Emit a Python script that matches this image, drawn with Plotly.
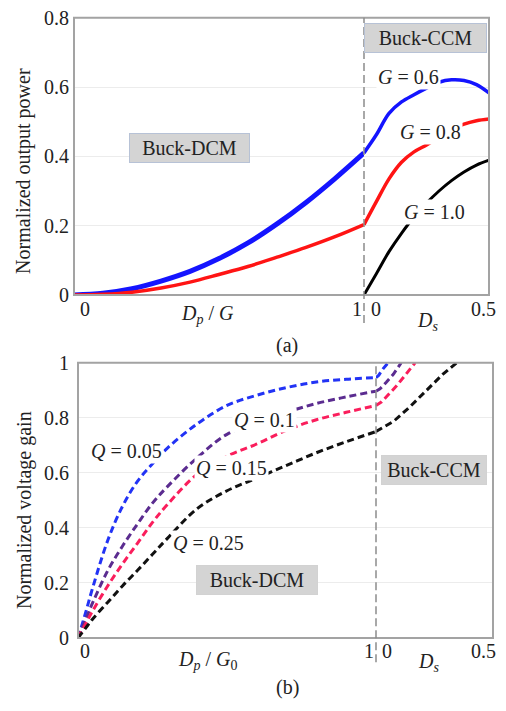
import plotly.graph_objects as go

# ---------------- data: panel (a) normalized output power ----------------
dcm_x_a = [0, 0.1, 0.2, 0.3, 0.4, 0.5, 0.6, 0.7, 0.8, 0.9, 1.0]
p_dcm_g06 = [0, 0.005, 0.018, 0.04, 0.068, 0.105, 0.15, 0.205, 0.267, 0.336, 0.41]
p_dcm_g08 = [0, 0.002, 0.008, 0.02, 0.037, 0.059, 0.082, 0.109, 0.137, 0.168, 0.203]

ccm_ds_a = [0, 0.05, 0.1, 0.15, 0.2, 0.25, 0.3, 0.35, 0.4, 0.45, 0.5]
p_ccm_g06 = [0.41, 0.463, 0.524, 0.557, 0.578, 0.597, 0.614, 0.621, 0.619, 0.607, 0.583]
p_ccm_g08 = [0.203, 0.27, 0.335, 0.383, 0.413, 0.433, 0.456, 0.476, 0.493, 0.503, 0.508]
p_ccm_g10 = [0, 0.062, 0.125, 0.178, 0.225, 0.265, 0.3, 0.33, 0.355, 0.375, 0.389]

# ---------------- data: panel (b) normalized voltage gain ----------------
dcm_x_b = [0, 0.025, 0.05, 0.1, 0.15, 0.2, 0.25, 0.3, 0.4, 0.5, 0.6, 0.7, 0.8, 0.9, 1.0]
g_dcm_q005 = [0, 0.09, 0.185, 0.355, 0.48, 0.57, 0.633, 0.69, 0.778, 0.845, 0.882, 0.91, 0.93, 0.94, 0.946]
g_dcm_q010 = [0, 0.065, 0.13, 0.245, 0.335, 0.415, 0.49, 0.55, 0.655, 0.74, 0.782, 0.82, 0.852, 0.876, 0.897]
g_dcm_q015 = [0, 0.05, 0.1, 0.19, 0.27, 0.345, 0.42, 0.485, 0.595, 0.66, 0.705, 0.755, 0.793, 0.82, 0.845]
g_dcm_q025 = [0, 0.035, 0.07, 0.13, 0.19, 0.246, 0.304, 0.362, 0.47, 0.535, 0.581, 0.627, 0.673, 0.713, 0.75]

ccm_ds_q005 = [0, 0.012, 0.03, 0.052]
g_ccm_q005 = [0.946, 0.955, 0.978, 1.0]
ccm_ds_q010 = [0, 0.017, 0.045, 0.074, 0.108]
g_ccm_q010 = [0.897, 0.905, 0.93, 0.958, 1.0]
ccm_ds_q015 = [0, 0.024, 0.088, 0.167]
g_ccm_q015 = [0.845, 0.858, 0.916, 1.0]
ccm_ds_q025 = [0, 0.075, 0.145, 0.215, 0.285, 0.345]
g_ccm_q025 = [0.75, 0.787, 0.84, 0.899, 0.958, 1.0]

# tick labels
y_ticks_a = [0, 0.2, 0.4, 0.6, 0.8]
y_ticktext_a = ["0", "0.2", "0.4", "0.6", "0.8"]
y_ticks_b = [0, 0.2, 0.4, 0.6, 0.8, 1.0]
y_ticktext_b = ["0", "0.2", "0.4", "0.6", "0.8", "1"]
x_ticks_dcm = [0, 1]
x_ticks_ccm = [0, 0.5]
x_ticktext_dcm = ["0", "1"]
x_ticktext_ccm = ["0", "0.5"]

# ---------------- layout geometry (pixels) ----------------
W, H = 506, 711
FONT = "Liberation Serif"
TXT = "#222222"


def px(v):
    return v / W


def py(v):
    return 1 - v / H


A_L, A_M, A_R, A_T, A_B = 74, 364, 489, 7, 293
B_L, B_M, B_R, B_T, B_B = 78, 376, 493, 363, 647

fig = go.Figure()

blue_a, red_a = "#1414ff", "#ff1414"
blue_b, purple_b, pink_b, black_b = "#2233f5", "#5b2c90", "#fa1e5c", "#111111"

# panel (a) traces
fig.add_trace(go.Scatter(x=dcm_x_a, y=p_dcm_g06, xaxis="x", yaxis="y", mode="lines",
                         line=dict(color=blue_a, width=5, shape="spline")))
fig.add_trace(go.Scatter(x=dcm_x_a, y=p_dcm_g08, xaxis="x", yaxis="y", mode="lines",
                         line=dict(color=red_a, width=3.5, shape="spline")))
fig.add_trace(go.Scatter(x=ccm_ds_a, y=p_ccm_g06, xaxis="x2", yaxis="y", mode="lines",
                         line=dict(color=blue_a, width=3.5, shape="spline")))
fig.add_trace(go.Scatter(x=ccm_ds_a, y=p_ccm_g08, xaxis="x2", yaxis="y", mode="lines",
                         line=dict(color=red_a, width=3.5, shape="spline")))
fig.add_trace(go.Scatter(x=ccm_ds_a, y=p_ccm_g10, xaxis="x2", yaxis="y", mode="lines",
                         line=dict(color="black", width=3, shape="spline")))

# panel (b) traces
DASH = "7px,4px"
for xs, ys, c in [(dcm_x_b, g_dcm_q005, blue_b), (dcm_x_b, g_dcm_q010, purple_b),
                  (dcm_x_b, g_dcm_q015, pink_b), (dcm_x_b, g_dcm_q025, black_b)]:
    fig.add_trace(go.Scatter(x=xs, y=ys, xaxis="x3", yaxis="y2", mode="lines",
                             line=dict(color=c, width=3, dash=DASH, shape="spline")))
for xs, ys, c in [(ccm_ds_q005, g_ccm_q005, blue_b), (ccm_ds_q010, g_ccm_q010, purple_b),
                  (ccm_ds_q015, g_ccm_q015, pink_b), (ccm_ds_q025, g_ccm_q025, black_b)]:
    fig.add_trace(go.Scatter(x=xs, y=ys, xaxis="x4", yaxis="y2", mode="lines",
                             line=dict(color=c, width=3, dash=DASH)))

hidden_x = dict(showticklabels=False, showgrid=False, zeroline=False, showline=False, ticks="")
yax = dict(showgrid=True, gridcolor="#ececec", gridwidth=1, zeroline=False, showline=False,
           ticks="", tickfont=dict(family=FONT, size=20, color=TXT))

fig.update_layout(
    width=W, height=H, margin=dict(l=0, r=0, t=0, b=0),
    paper_bgcolor="white", plot_bgcolor="white", showlegend=False,
    font=dict(family=FONT, size=20, color=TXT),
    xaxis=dict(domain=[px(A_L), px(A_M)], range=[0, 1], anchor="y", **hidden_x),
    xaxis2=dict(domain=[px(A_M), px(A_R)], range=[0, 0.5], anchor="y", **hidden_x),
    xaxis3=dict(domain=[px(B_L), px(B_M)], range=[0, 1], anchor="y2", **hidden_x),
    xaxis4=dict(domain=[px(B_M), px(B_R)], range=[0, 0.5], anchor="y2", **hidden_x),
    yaxis=dict(domain=[py(A_B), py(A_T)], range=[0, 0.8], anchor="x",
               tickvals=y_ticks_a, ticktext=y_ticktext_a, ticklabelstandoff=4, **yax),
    yaxis2=dict(domain=[py(B_B), py(B_T)], range=[0, 1], anchor="x3",
                tickvals=y_ticks_b, ticktext=y_ticktext_b, ticklabelstandoff=8, **yax),
)

# frames and boundary dashed lines
for l, r, t, b in [(A_L, A_R, A_T, A_B), (B_L, B_R, B_T, B_B)]:
    fig.add_shape(type="rect", xref="paper", yref="paper", x0=px(l), x1=px(r), y0=py(b), y1=py(t),
                  line=dict(color="#a3a3a3", width=2), fillcolor="rgba(0,0,0,0)", layer="above")
fig.add_shape(type="line", xref="paper", yref="paper", x0=px(A_M), x1=px(A_M), y0=py(322), y1=py(A_T),
              line=dict(color="#8c8c8c", width=1.5, dash="8px,4px"))
fig.add_shape(type="line", xref="paper", yref="paper", x0=px(B_M), x1=px(B_M), y0=py(672), y1=py(B_T),
              line=dict(color="#8c8c8c", width=1.5, dash="8px,4px"))

CENTER = dict(xanchor="center", yanchor="middle", showarrow=False)
ann = []
# x tick labels (placed under the frame, nudged inwards like the original)
for xr, vals, texts, shifts, yy in [
    ("x", x_ticks_dcm, x_ticktext_dcm, [11, -7], 308),
    ("x2", x_ticks_ccm, x_ticktext_ccm, [12, -6], 308),
    ("x3", x_ticks_dcm, x_ticktext_dcm, [7, -7], 660),
    ("x4", x_ticks_ccm, x_ticktext_ccm, [11, -10], 660),
]:
    for v, t, s in zip(vals, texts, shifts):
        ann.append(dict(x=v, xref=xr, y=py(yy), yref="paper", text=t, xshift=s,
                        font=dict(family=FONT, size=20, color=TXT), **CENTER))

# axis titles and panel captions
for x, y, t, ang in [
    (207, 313, "<i>D</i><sub><i>p</i></sub> / <i>G</i>", 0),
    (427, 320, "<i>D</i><sub><i>s</i></sub>", 0),
    (207, 670, "<i>D</i><sub><i>p</i></sub> / <i>G</i><sub>0</sub>", 0),
    (428, 672, "<i>D</i><sub><i>s</i></sub>", 0),
    (287, 345, "(a)", 0),
    (287, 698, "(b)", 0),
    (24, 165, "Normalized output power", -90),
    (24, 515, "Normalized voltage gain", -90),
]:
    ann.append(dict(x=px(x), y=py(y), xref="paper", yref="paper", text=t, textangle=ang,
                    font=dict(family=FONT, size=20, color=TXT), **CENTER))

# curve labels (white background cuts the curves as in the original)
for xr, yr, x, y, t in [
    ("x2", "y", 0.179, 0.629, "<i>G</i> = 0.6"),
    ("x2", "y", 0.266, 0.47, "<i>G</i> = 0.8"),
    ("x2", "y", 0.282, 0.24, "<i>G</i> = 1.0"),
    ("x3", "y2", 0.162, 0.681, "<i>Q</i> = 0.05"),
    ("x3", "y2", 0.626, 0.793, "<i>Q</i> = 0.1"),
    ("x3", "y2", 0.514, 0.619, "<i>Q</i> = 0.15"),
    ("x3", "y2", 0.437, 0.346, "<i>Q</i> = 0.25"),
]:
    ann.append(dict(x=x, y=y, xref=xr, yref=yr, text=t, bgcolor="white", borderpad=1,
                    font=dict(family=FONT, size=20, color=TXT), **CENTER))

# region boxes
for xr, yr, x, y, t, w, border in [
    ("x", "y", 0.397, 0.425, "Buck-DCM", 119, "#b7c2d6"),
    ("x2", "y", 0.244, 0.741, "Buck-CCM", 121, "#b7c2d6"),
    ("x3", "y2", 0.601, 0.211, "Buck-DCM", 120, "#d2d2d2"),
    ("x4", "y2", 0.247, 0.611, "Buck-CCM", 104, "#d2d2d2"),
]:
    ann.append(dict(x=x, y=y, xref=xr, yref=yr, text=t, bgcolor="#d4d4d4",
                    bordercolor=border, borderwidth=1, width=w, height=28, borderpad=0,
                    font=dict(family=FONT, size=20, color=TXT), **CENTER))

fig.update_layout(annotations=ann)
fig.write_html("out.html")
